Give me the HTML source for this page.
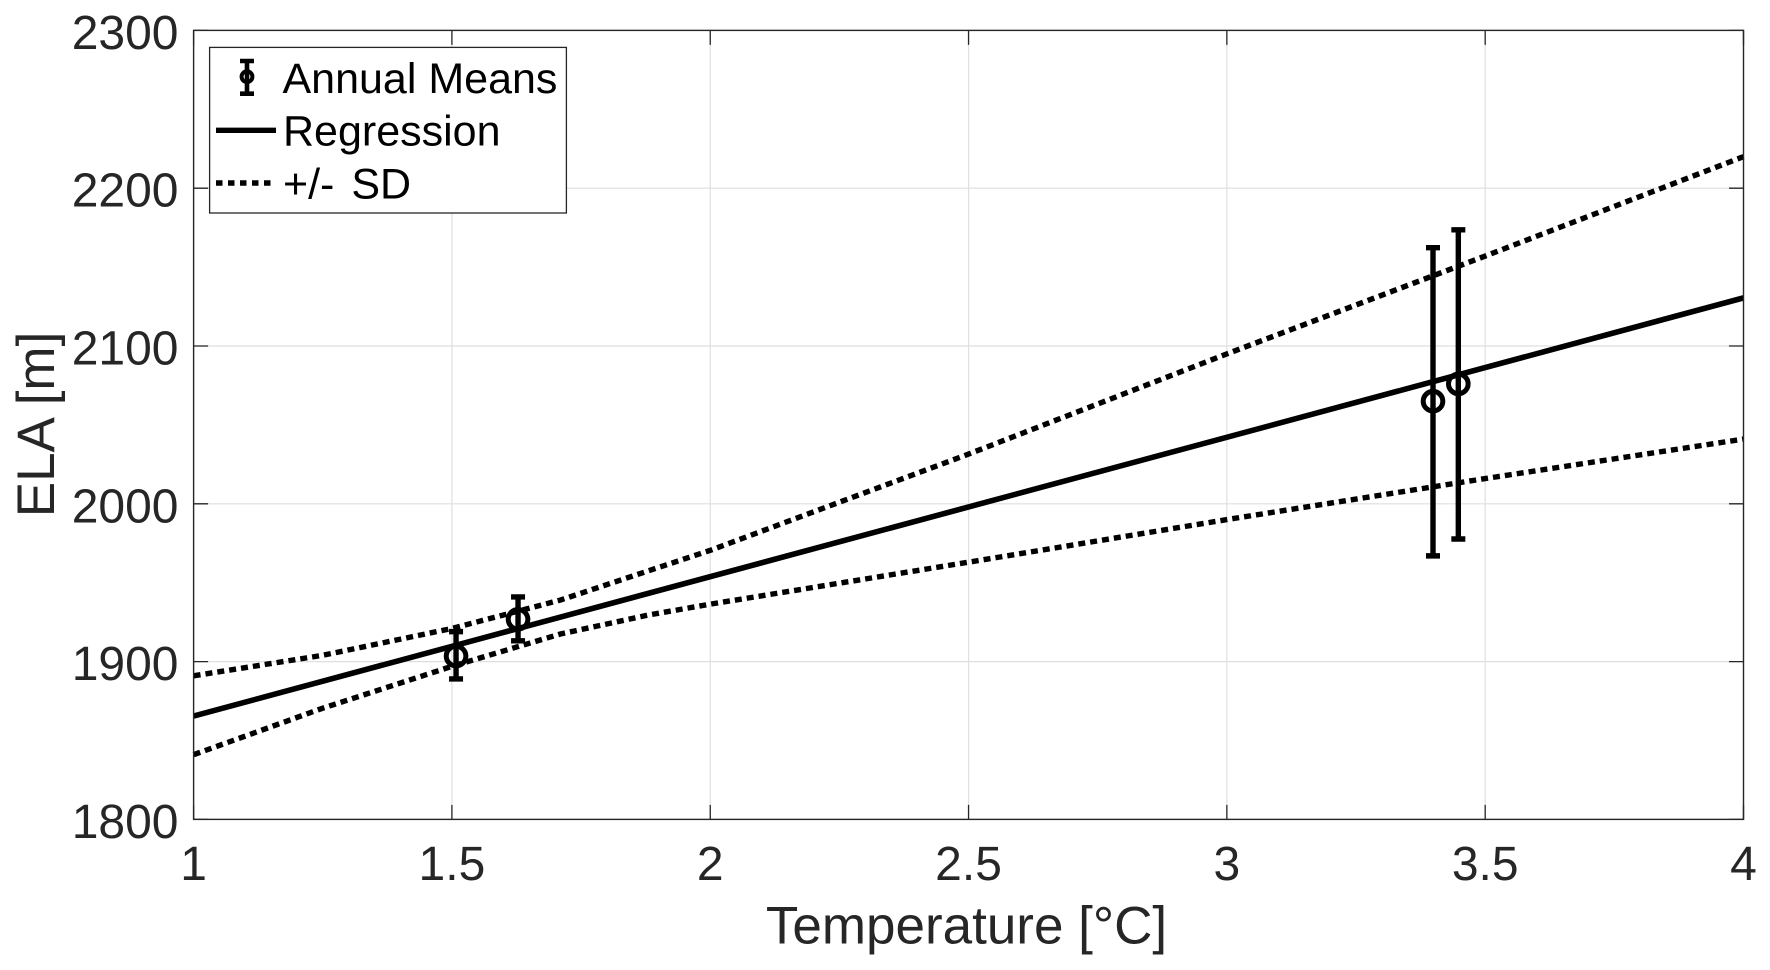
<!DOCTYPE html>
<html lang="en">
<head>
<meta charset="utf-8">
<title>ELA vs Temperature</title>
<style>
html,body{margin:0;padding:0;background:#fff;width:1770px;height:970px;overflow:hidden}
svg{display:block}
text{font-family:"Liberation Sans",Arial,sans-serif}
</style>
</head>
<body>
<svg id="chart" xmlns="http://www.w3.org/2000/svg" width="1770" height="970" viewBox="0 0 1770 970">
  <rect x="0" y="0" width="1770" height="970" fill="#fff"/>
  <g id="grid"></g>
  <g id="series"></g>
  <g id="axes"></g>
  <text x="966.5" y="943.3" font-size="53" fill="#262626" text-anchor="middle">Temperature [°C]</text>
  <text transform="translate(54,424.5) rotate(-90)" font-size="53" fill="#262626" text-anchor="middle">ELA [m]</text>
  <g>
    <rect x="209.6" y="47.4" width="356.8" height="165.6" fill="#fff" stroke="#262626" stroke-width="1.3"/>
    <g>
      <path d="M247 59V95.7M240 61H254M240 93.7H254" fill="none" stroke="#000" stroke-width="4.6"/>
      <circle cx="247" cy="76.7" r="5.4" fill="none" stroke="#000" stroke-width="4"/>
      <text x="282.5" y="93" font-size="43" fill="#000">Annual Means</text>
    </g>
    <g>
      <line x1="216" y1="130.3" x2="276" y2="130.3" stroke="#000" stroke-width="5.4"/>
      <text x="283" y="145.5" font-size="43" fill="#000">Regression</text>
    </g>
    <g>
      <line x1="216" y1="183" x2="276" y2="183" stroke="#000" stroke-width="5.4" stroke-dasharray="6.5 5.5"/>
      <text x="283" y="198.5" font-size="43" fill="#000" word-spacing="5">+/- SD</text>
    </g>
  </g>
</svg>
<script>
// Chart data
const xTicks = [1, 1.5, 2, 2.5, 3, 3.5, 4];
const yTicks = [1800, 1900, 2000, 2100, 2200, 2300];
const xTickLabels = ['1', '1.5', '2', '2.5', '3', '3.5', '4'];
const yTickLabels = ['1800', '1900', '2000', '2100', '2200', '2300'];
const regressionX = [1, 4];
const regressionY = [1865.5, 2130.5];
const boundX = [1, 1.25, 1.5, 1.71, 1.88, 2, 2.5, 3, 3.5, 4];
const upperSdY = [1891, 1904, 1921, 1939, 1957.5, 1970.5, 2031.5, 2095, 2157, 2220];
const lowerSdY = [1841, 1870.5, 1897, 1917.5, 1929.5, 1936.4, 1963, 1990, 2016, 2041];
const meanX = [1.508, 1.628, 3.399, 3.448];
const meanY = [1903.5, 1926.8, 2065, 2076];
const errorLow = [1889, 1913.2, 1967, 1977.7];
const errorHigh = [1919, 1941, 2162.3, 2173.6];

const plotLeft = 193.6, plotRight = 1743.5, plotTop = 30.4, plotBottom = 819.4;
const xMin = 1, xMax = 4, yMin = 1800, yMax = 2300;
function xScale(v) { return plotLeft + (v - xMin) / (xMax - xMin) * (plotRight - plotLeft); }
function yScale(v) { return plotBottom - (v - yMin) / (yMax - yMin) * (plotBottom - plotTop); }

const NS = 'http://www.w3.org/2000/svg';
function make(tag, parent, attrs) {
  const el = document.createElementNS(NS, tag);
  Object.keys(attrs).forEach(function (k) { el.setAttribute(k, attrs[k]); });
  parent.appendChild(el);
  return el;
}
function pathFrom(xs, ys) {
  return xs.map(function (x, i) {
    return (i ? 'L' : 'M') + xScale(x).toFixed(2) + ' ' + yScale(ys[i]).toFixed(2);
  }).join('');
}

const gridG = document.getElementById('grid');
const seriesG = document.getElementById('series');
const axesG = document.getElementById('axes');
const gridColor = '#dfdfdf', axisColor = '#262626', tickLen = 14.5;

// Grid lines
xTicks.forEach(function (t) {
  const g = make('line', gridG, { x1: xScale(t), x2: xScale(t), y1: plotTop, y2: plotBottom, stroke: gridColor, 'stroke-width': 1.2 });
  
  
});
yTicks.forEach(function (t) {
  const g = make('line', gridG, { x1: plotLeft, x2: plotRight, y1: yScale(t), y2: yScale(t), stroke: gridColor, 'stroke-width': 1.2 });
  
  
});

// Lines
const upperLine = make('path', seriesG, { d: pathFrom(boundX, upperSdY), fill: 'none', stroke: '#000', 'stroke-width': 5.4, 'stroke-dasharray': '7 5' });


const lowerLine = make('path', seriesG, { d: pathFrom(boundX, lowerSdY), fill: 'none', stroke: '#000', 'stroke-width': 5.4, 'stroke-dasharray': '7 5' });


const regLine = make('path', seriesG, { d: pathFrom(regressionX, regressionY), fill: 'none', stroke: '#000', 'stroke-width': 5.6 });



// Error bars and markers
meanX.forEach(function (mx, i) {
  const cx = xScale(mx), top = yScale(errorHigh[i]), bot = yScale(errorLow[i]);
  const bar = make('path', seriesG, {
    d: 'M' + cx + ' ' + top + 'V' + bot + 'M' + (cx - 7) + ' ' + top + 'H' + (cx + 7) + 'M' + (cx - 7) + ' ' + bot + 'H' + (cx + 7),
    fill: 'none', stroke: '#000', 'stroke-width': 5.4
  });
  
  
  const dot = make('circle', seriesG, { cx: cx, cy: yScale(meanY[i]), r: 9.8, fill: 'none', stroke: '#000', 'stroke-width': 5 });
  
  
});

// Axes box
const box = make('rect', axesG, { x: plotLeft, y: plotTop, width: plotRight - plotLeft, height: plotBottom - plotTop, fill: 'none', stroke: axisColor, 'stroke-width': 1.4 });



// Ticks and labels
xTicks.forEach(function (t, i) {
  const x = xScale(t);
  const tick = make('path', axesG, { d: 'M' + x + ' ' + plotBottom + 'V' + (plotBottom - tickLen) + 'M' + x + ' ' + plotTop + 'V' + (plotTop + tickLen), stroke: axisColor, 'stroke-width': 1.3, fill: 'none' });
  
  
  const lab = make('text', axesG, { x: x, y: 880, 'font-size': 48, fill: axisColor, 'text-anchor': 'middle' });
  
  
  lab.textContent = xTickLabels[i];
});
yTicks.forEach(function (t, i) {
  const y = yScale(t);
  const tick = make('path', axesG, { d: 'M' + plotLeft + ' ' + y + 'H' + (plotLeft + tickLen) + 'M' + plotRight + ' ' + y + 'H' + (plotRight - tickLen), stroke: axisColor, 'stroke-width': 1.3, fill: 'none' });
  
  
  const lab = make('text', axesG, { x: 178.5, y: y + 18.5, 'font-size': 48, fill: axisColor, 'text-anchor': 'end' });
  
  
  lab.textContent = yTickLabels[i];
});
</script>
</body>
</html>
